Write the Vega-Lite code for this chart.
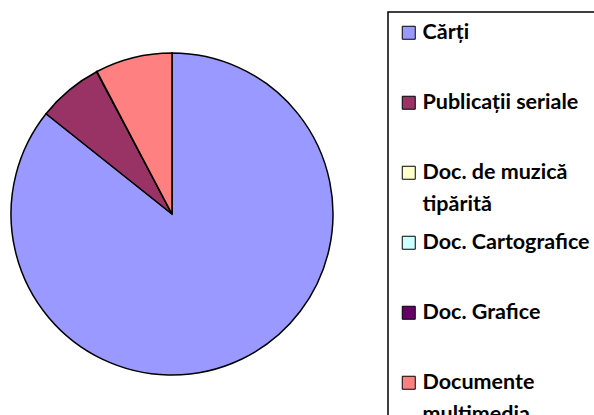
{
  "$schema": "https://vega.github.io/schema/vega-lite/v6.json",
  "autosize": "none",
  "width": 344,
  "height": 414,
  "padding": {"left": 0, "top": 7, "right": 250, "bottom": 0},
  "background": "white",
  "data": {
    "values": [
      {"categorie": "Cărți", "valoare": 85.7},
      {"categorie": "Publicații seriale", "valoare": 6.55},
      {"categorie": "Doc. de muzică tipărită", "valoare": 0.01},
      {"categorie": "Doc. Cartografice", "valoare": 0.01},
      {"categorie": "Doc. Grafice", "valoare": 0.02},
      {"categorie": "Documente multimedia", "valoare": 7.71}
    ]
  },
  "transform": [
    {"window": [{"op": "row_number", "as": "ordine"}]}
  ],
  "mark": {"type": "arc", "radius": 161, "stroke": "black", "strokeWidth": 1.5},
  "encoding": {
    "theta": {"field": "valoare", "type": "quantitative", "stack": true},
    "order": {"field": "ordine", "type": "quantitative", "sort": "ascending"},
    "color": {
      "field": "categorie",
      "type": "nominal",
      "scale": {
        "domain": ["Cărți", "Publicații seriale", "Doc. de muzică tipărită", "Doc. Cartografice", "Doc. Grafice", "Documente multimedia"],
        "range": ["#9999FF", "#993366", "#FFFFCC", "#CCFFFF", "#660066", "#FF8080"]
      },
      "legend": {
        "title": null,
        "orient": "none",
        "legendX": 388,
        "legendY": 5,
        "strokeColor": "black",
        "fillColor": "white",
        "padding": 10,
        "symbolType": "square",
        "symbolSize": 169,
        "symbolStrokeColor": "black",
        "symbolStrokeWidth": 1,
        "symbolOpacity": 1,
        "labelFont": "Lato",
        "labelFontWeight": "bold",
        "labelFontSize": 21.5,
        "labelColor": "black",
        "labelOffset": 3,
        "labelLimit": 400,
        "rowPadding": 15,
        "gridAlign": "all",
        "labelExpr": "datum.label == 'Doc. de muzică tipărită' ? ['Doc. de muzică', 'tipărită'] : datum.label == 'Documente multimedia' ? ['Documente', 'multimedia'] : datum.label",
        "encode": {
          "legend": {"update": {"strokeWidth": {"value": 1.5}}},
          "labels": {"update": {"lineHeight": {"value": 32}}}
        }
      }
    }
  }
}
